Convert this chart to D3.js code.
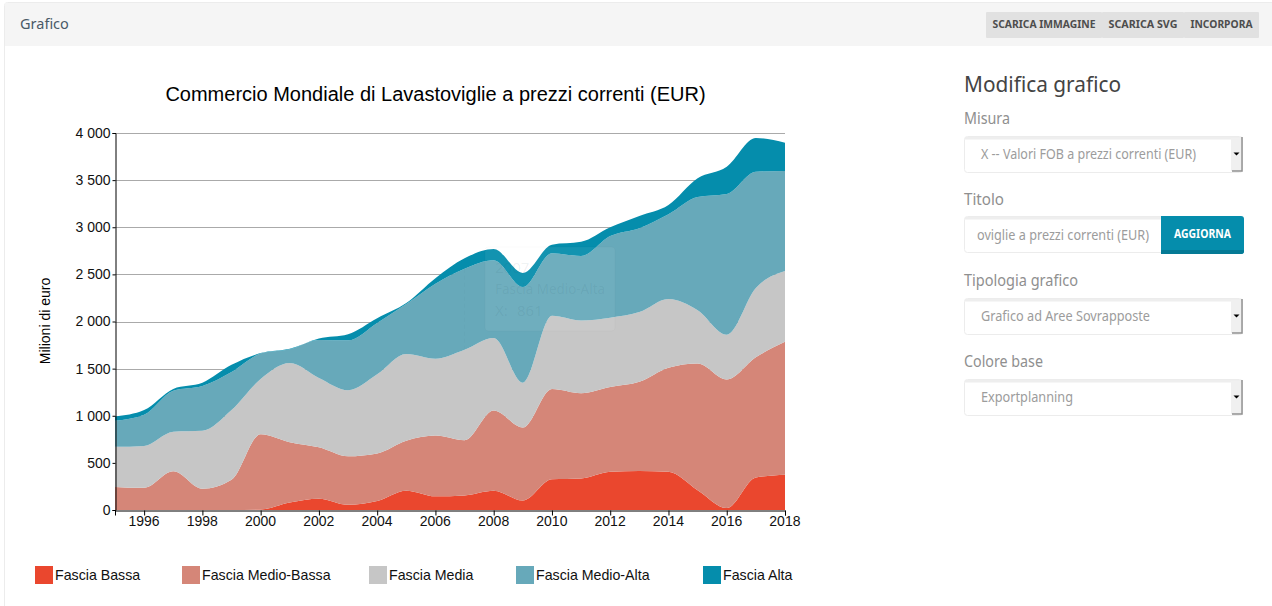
<!DOCTYPE html>
<html>
<head>
<meta charset="utf-8">
<title>Grafico</title>
<script src="https://cdn.jsdelivr.net/npm/d3@7/dist/d3.min.js"></script>
<style>
  html, body { margin: 0; padding: 0; background: #fff; overflow: hidden; }
  .ui { font-family: "Noto Sans", sans-serif; }
  .chart { font-family: "Liberation Sans", Arial, sans-serif; }
  .axis text { font-family: "Liberation Sans", Arial, sans-serif; font-size: 14px; fill: #111; }
  .axis path, .axis line { stroke: #000; }
</style>
</head>
<body>
<svg id="page" width="1272" height="606"></svg>
<script>
// Years on the x axis
const years = d3.range(1995, 2019);
const yTicks = [0, 500, 1000, 1500, 2000, 2500, 3000, 3500, 4000];
const xTicks = [1996, 1998, 2000, 2002, 2004, 2006, 2008, 2010, 2012, 2014, 2016, 2018];

// Milioni di euro per fascia
const seriesNames = ['Fascia Bassa', 'Fascia Medio-Bassa', 'Fascia Media', 'Fascia Medio-Alta', 'Fascia Alta'];
const seriesColors = ['#ea472e', '#d58678', '#c6c6c6', '#67a9ba', '#058dac'];

const bassa = [0, 0, 0, 0, 0, 5, 80, 120, 55, 95, 205, 145, 155, 205, 100, 325, 335, 405, 415, 405, 210, 20, 345, 375];
const medioBassa = [245, 235, 410, 225, 320, 800, 640, 545, 515, 505, 530, 645, 585, 850, 775, 960, 905, 900, 945, 1105, 1345, 1365, 1275, 1410];
const media = [425, 445, 420, 615, 740, 585, 840, 735, 700, 840, 920, 815, 960, 770, 475, 775, 770, 735, 740, 730, 565, 475, 735, 750];
const medioAlta = [277, 330, 435, 475, 405, 270, 145, 405, 530, 545, 530, 795, 861, 825, 1015, 665, 685, 866, 890, 897, 1200, 1493, 1235, 1062];
const alta = [45, 50, 20, 35, 75, 5, 5, 15, 65, 50, 10, 60, 110, 120, 150, 90, 150, 94, 130, 100, 200, 290, 358, 300];
const seriesValues = [bassa, medioBassa, media, medioAlta, alta];

const svg = d3.select('#page');

// Page chrome
svg.append('rect').attr('x', 4.5).attr('y', 2.5).attr('width', 1280).attr('height', 620)
  .attr('rx', 3).attr('fill', '#fff').attr('stroke', '#ececec');
svg.append('rect').attr('x', 5).attr('y', 3).attr('width', 1267).attr('height', 43).attr('fill', '#f5f5f5');
svg.append('text').attr('class', 'ui').attr('x', 20).attr('y', 29)
  .attr('font-size', 14.5).attr('fill', '#4a5a68').text('Grafico');

// Toolbar buttons
const toolbar = [
  { label: 'SCARICA IMMAGINE', x: 986, w: 116, cx: 1044 },
  { label: 'SCARICA SVG', x: 1102, w: 82, cx: 1143 },
  { label: 'INCORPORA', x: 1184, w: 75, cx: 1221.5 },
];
const buttons = svg.append('g').selectAll('g').data(toolbar).join('g');
buttons.append('rect').attr('x', d => d.x).attr('y', 12).attr('width', d => d.w).attr('height', 26)
  .attr('rx', 1).attr('fill', '#e1e1e1');
buttons.append('text').attr('class', 'ui').attr('x', d => d.cx).attr('y', 28).attr('text-anchor', 'middle')
  .attr('font-size', 11).attr('font-weight', 700).attr('fill', '#4d4d4d')
  .attr('textLength', d => d.w - 13).attr('lengthAdjust', 'spacingAndGlyphs').text(d => d.label);

// Side form
svg.append('text').attr('class', 'ui').attr('x', 964).attr('y', 92)
  .attr('font-size', 22).attr('fill', '#444').attr('textLength', 157).attr('lengthAdjust', 'spacingAndGlyphs')
  .text('Modifica grafico');

const fields = [
  { label: 'Misura', labelW: 46, y: 136, value: 'X -- Valori FOB a prezzi correnti (EUR)', valueW: 215 },
  { label: 'Tipologia grafico', labelW: 114, y: 298, value: 'Grafico ad Aree Sovrapposte', valueW: 169 },
  { label: 'Colore base', labelW: 79, y: 379, value: 'Exportplanning', valueW: 92 },
];
const labelColor = '#8f8f8f';
const valueColor = '#9c9c9c';

const form = svg.append('g').attr('class', 'ui');
const selects = form.selectAll('g').data(fields).join('g');
selects.append('text').attr('x', 964).attr('y', d => d.y - 12).attr('font-size', 15.5).attr('fill', labelColor)
  .attr('textLength', d => d.labelW).attr('lengthAdjust', 'spacingAndGlyphs').text(d => d.label);
selects.append('rect').attr('x', 964.5).attr('y', d => d.y + 0.5).attr('width', 278).attr('height', 36)
  .attr('rx', 3).attr('fill', '#fff').attr('stroke', '#ececec');
selects.append('rect').attr('x', 965).attr('y', d => d.y + 1).attr('width', 277).attr('height', 2.5).attr('fill', '#eee');
selects.append('rect').attr('x', 1231).attr('y', d => d.y + 2).attr('width', 10).attr('height', 33).attr('fill', '#f0f0f0');
selects.append('path').attr('fill', 'none').attr('stroke', '#909090').attr('stroke-width', 1.5)
  .attr('d', d => `M1242,${d.y + 1}V${d.y + 35}H1232`);
selects.append('path').attr('fill', '#000')
  .attr('d', d => `M1233.5,${d.y + 16.5}h6l-3,3z`);
selects.append('text').attr('x', 981).attr('y', d => d.y + 23).attr('font-size', 13.5).attr('fill', valueColor)
  .attr('textLength', d => d.valueW).attr('lengthAdjust', 'spacingAndGlyphs').text(d => d.value);

// Titolo field with its button
form.append('text').attr('x', 964).attr('y', 205).attr('font-size', 15.5).attr('fill', labelColor)
  .attr('textLength', 40).attr('lengthAdjust', 'spacingAndGlyphs').text('Titolo');
form.append('rect').attr('x', 964.5).attr('y', 216.5).attr('width', 200).attr('height', 36)
  .attr('rx', 3).attr('fill', '#fff').attr('stroke', '#ececec');
form.append('rect').attr('x', 965).attr('y', 217).attr('width', 196).attr('height', 2.5).attr('fill', '#eee');
form.append('text').attr('x', 977).attr('y', 240).attr('font-size', 13.5).attr('fill', valueColor)
  .attr('textLength', 172).attr('lengthAdjust', 'spacingAndGlyphs').text('oviglie a prezzi correnti (EUR)');
form.append('path').attr('fill', '#058dac').attr('d', 'M1161,216H1241a3,3 0 0 1 3,3V251a3,3 0 0 1 -3,3H1161Z');
form.append('path').attr('fill', '#047a95').attr('d', 'M1161,250H1244V251a3,3 0 0 1 -3,3H1161Z');
form.append('text').attr('x', 1202.5).attr('y', 238).attr('text-anchor', 'middle').attr('font-size', 11.5)
  .attr('font-weight', 700).attr('fill', '#fff').attr('textLength', 57).attr('lengthAdjust', 'spacingAndGlyphs')
  .text('AGGIORNA');

// Chart
const x = d3.scaleLinear().domain([1995, 2018]).range([115, 785]);
const y = d3.scaleLinear().domain([0, 4000]).range([510, 133]);

const chart = svg.append('g').attr('class', 'chart');

chart.append('text').attr('x', 435.5).attr('y', 101).attr('text-anchor', 'middle')
  .attr('font-size', 20).attr('fill', '#000')
  .text('Commercio Mondiale di Lavastoviglie a prezzi correnti (EUR)');

chart.append('text').attr('transform', 'translate(50,321) rotate(-90)').attr('text-anchor', 'middle')
  .attr('font-size', 14).attr('fill', '#000').text('Milioni di euro');

// Gridlines sit behind the areas
chart.append('g').selectAll('line').data(yTicks.slice(1)).join('line')
  .attr('x1', 115).attr('x2', 785)
  .attr('y1', d => Math.round(y(d)) + 0.5).attr('y2', d => Math.round(y(d)) + 0.5)
  .attr('stroke', '#aaa');

const rows = years.map((year, i) => {
  const row = { year };
  seriesNames.forEach((name, s) => { row[name] = seriesValues[s][i]; });
  return row;
});

const stacked = d3.stack().keys(seriesNames)(rows);

const area = d3.area()
  .curve(d3.curveMonotoneX)
  .x(d => x(d.data.year))
  .y0(d => y(d[0]))
  .y1(d => y(d[1]));

chart.append('g').selectAll('path').data(stacked).join('path')
  .attr('d', area)
  .attr('fill', (d, i) => seriesColors[i]);

// Axes
const thousands = d3.formatLocale({ thousands: ' ', grouping: [3], decimal: ',', currency: ['', ''] }).format(',');

chart.append('g').attr('class', 'axis').attr('transform', 'translate(115.5,0)')
  .call(d3.axisLeft(y).tickValues(yTicks).tickFormat(thousands).tickSize(3).tickPadding(2))
  .call(s => s.selectAll('text').attr('dy', '0.32em'));

chart.append('g').attr('class', 'axis').attr('transform', 'translate(0,510.5)')
  .call(d3.axisBottom(x).tickValues(xTicks).tickFormat(d3.format('d')).tickSize(5).tickPadding(1))
  .call(s => s.selectAll('text').attr('dx', '-0.6'));

// Left-over tooltip, fading out over 2007
const tooltipYear = 2007;
const tooltipSeries = 'Fascia Medio-Alta';
const tooltipValue = medioAlta[years.indexOf(tooltipYear)];

chart.append('line').attr('x1', x(tooltipYear)).attr('x2', x(tooltipYear))
  .attr('y1', y(2560)).attr('y2', y(1700))
  .attr('stroke', '#000').attr('stroke-opacity', 0.02).attr('stroke-dasharray', '4,3');

const tooltip = svg.append('g').attr('class', 'ui').attr('fill', '#1d4a58').attr('fill-opacity', 0.08).attr('font-size', 15);
tooltip.append('rect').attr('x', 485).attr('y', 247).attr('width', 130).attr('height', 84).attr('rx', 3)
  .attr('fill', '#fff').attr('fill-opacity', 0.06).attr('stroke', '#000').attr('stroke-opacity', 0.02);
tooltip.append('text').attr('x', 495).attr('y', 273).text(tooltipYear);
tooltip.append('text').attr('x', 495).attr('y', 294).attr('textLength', 110).attr('lengthAdjust', 'spacingAndGlyphs').text(tooltipSeries);
tooltip.append('text').attr('x', 495).attr('y', 316).text('X:');
tooltip.append('text').attr('x', 517).attr('y', 316).text(tooltipValue);

// Legend
const legendX = [35, 182, 369, 516, 703];
const legend = chart.append('g').selectAll('g').data(seriesNames).join('g')
  .attr('transform', (d, i) => `translate(${legendX[i]},566)`);
legend.append('rect').attr('width', 18).attr('height', 18).attr('fill', (d, i) => seriesColors[i]);
legend.append('text').attr('x', 20).attr('y', 14).attr('font-size', 14.2).attr('fill', '#111').text(d => d);
</script>
</body>
</html>
